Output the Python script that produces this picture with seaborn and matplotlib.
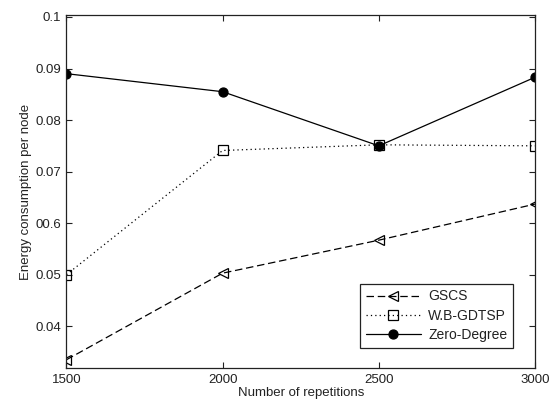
import matplotlib
matplotlib.use("Agg")
import matplotlib.pyplot as plt
import seaborn as sns
import pandas as pd

repetitions = [1500, 2000, 2500, 3000]
gscs = [0.0335, 0.0503, 0.0567, 0.0637]
wb_gdtsp = [0.0500, 0.0741, 0.0752, 0.0750]
zero_degree = [0.0890, 0.0855, 0.0750, 0.0883]
y_ticks = [0.04, 0.05, 0.06, 0.07, 0.08, 0.09, 0.1]
y_tick_labels = ["0.04", "0.05", "00.6", "0.07", "0.08", "0.09", "0.1"]
x_ticks = [1500, 2000, 2500, 3000]

sns.set_theme(style="white")
plt.rcParams["font.family"] = ["Liberation Sans", "DejaVu Sans"]

fig = plt.figure(figsize=(5.49, 4.04), dpi=100)
ax = fig.add_axes([0.121, 0.0891, 0.8535, 0.874])

series = [
    ("GSCS", gscs, (0, (6, 3)), "<", "none", 7.5),
    ("W.B-GDTSP", wb_gdtsp, (0, (1, 2.5)), "s", "none", 6.5),
    ("Zero-Degree", zero_degree, "-", "o", "black", 6.5),
]
for name, vals, ls, mk, mfc, ms in series:
    df = pd.DataFrame({"x": repetitions, "y": vals})
    sns.lineplot(data=df, x="x", y="y", ax=ax, color="black", linewidth=0.9,
                 linestyle=ls, marker=mk, markerfacecolor=mfc,
                 markeredgecolor="black", markeredgewidth=0.9, markersize=ms,
                 label=name)

ax.set_xlim(1500, 3000)
ax.set_ylim(0.0319, 0.1004)
ax.set_xticks(x_ticks)
ax.set_xticklabels([str(t) for t in x_ticks])
ax.set_yticks(y_ticks)
ax.set_yticklabels(y_tick_labels)
ax.tick_params(direction="in", length=4, width=0.8, top=True, right=True,
               bottom=True, left=True, labelsize=9.5, colors="#222222", pad=4)
for sp in ax.spines.values():
    sp.set_color("#222222")
    sp.set_linewidth(0.9)
    sp.set_visible(True)
ax.set_xlabel("Number of repetitions", fontsize=9.5, labelpad=1, color="#222222")
ax.set_ylabel("Energy consumption per node", fontsize=9.5, labelpad=2, color="#222222")
ax.grid(False)

leg = ax.legend(loc="lower right", bbox_to_anchor=(0.953, 0.057),
                borderaxespad=0, fontsize=10, frameon=True, fancybox=False,
                handlelength=4.0, edgecolor="#222222", framealpha=1,
                labelspacing=0.38, borderpad=0.42, handletextpad=0.5)
leg.get_frame().set_linewidth(0.9)
for t in leg.get_texts():
    t.set_color("#222222")

fig.savefig("out.png", dpi=100)
